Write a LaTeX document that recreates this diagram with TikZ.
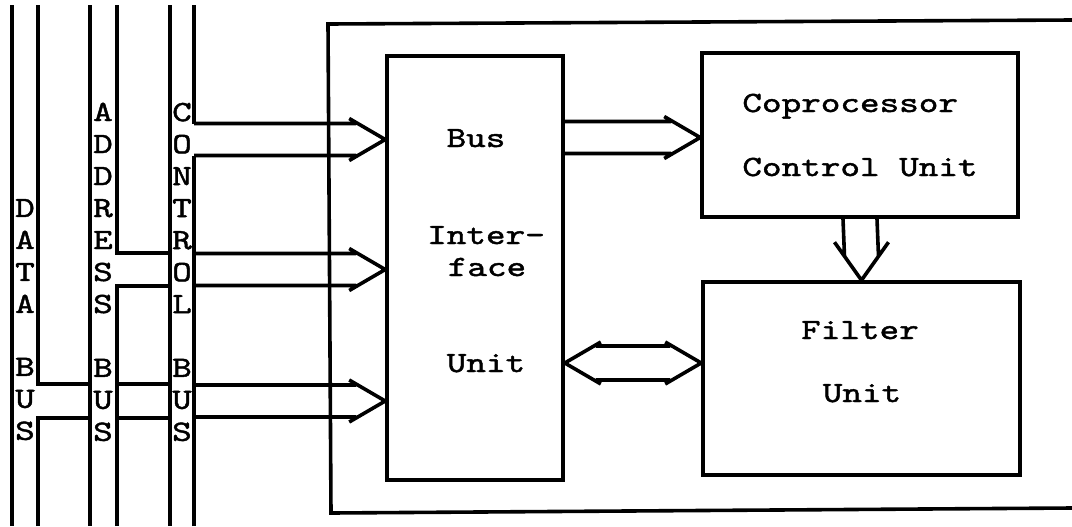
\documentclass[tikz,border=0pt]{standalone}
\usepackage{fontspec}
\usepackage{tikz}
\usetikzlibrary{calc}
\newfontfamily\labfont[FakeStretch=1.27,FakeBold=1.5]{lmmono10-regular.otf}

\tikzset{
  bus/.style={line width=1.8pt},
  blk/.style={draw,line width=1.8pt,inner sep=0pt},
  lab/.style={font=\labfont\fontsize{14.7}{16}\selectfont,inner sep=0pt,align=center}
}
% wide two-line arrow pointing right: #1 start (middle), #2 tip
\newcommand{\wideright}[2]{%
\draw[bus]($(#1)+(0,-16)$)--($(#2)+(-29,-16)$)
($(#1)+(0,16)$)--($(#2)+(-29,16)$)
($(#2)+(-36,-21)$)--(#2)--($(#2)+(-36,21)$);}

\begin{document}
\begin{tikzpicture}[x=0.5pt,y=-0.5pt]
\useasboundingbox(0,0)rectangle(1072,526);

% the three system buses
\draw[bus](12,5)--(12,526);
\draw[bus](38,5)--(38,384)--(90,384);
\draw[bus](38,526)--(38,418)--(90,418);
\draw[bus](90,5)--(90,526);
\draw[bus](117,5)--(117,253)--(170,253);
\draw[bus](117,526)--(117,286)--(170,286);
\draw[bus](117,384)--(170,384);
\draw[bus](117,418)--(170,418);
\draw[bus](170,5)--(170,526);
\draw[bus](194,5)--(194,123.5);
\draw[bus](194,526)--(194,155.5);

\node[lab](dataw) at (25,256){D\\A\\T\\A};
\node[lab](datab) at (25,399){B\\U\\S};
\node[lab](addrw) at (103,208){A\\D\\D\\R\\E\\S\\S};
\node[lab](addrb) at (103,400){B\\U\\S};
\node[lab](ctrlw) at (182,208){C\\O\\N\\T\\R\\O\\L};
\node[lab](ctrlb) at (182,400){B\\U\\S};

% coprocessor
\draw[bus](1072,20)--(328,24)--(331,513)--(1072,508);

\node[blk,minimum width=88pt,minimum height=212pt](biu) at (475,268){};
\node[blk,minimum width=158pt,minimum height=82pt](ccu) at (860,135){};
\node[blk,minimum width=158.5pt,minimum height=96.5pt](fu) at (861.5,378.5){};

\node[lab,anchor=base](biu1) at (476,147){Bus};
\node[lab,anchor=base](biu2) at (486,244){Inter-};
\node[lab,anchor=base](biu3) at (487,276){face};
\node[lab,anchor=base](biu4) at (486,372){Unit};
\node[lab,anchor=base west](ccu1) at (742,112){Coprocessor};
\node[lab,anchor=base west](ccu2) at (742,176){Control Unit};
\node[lab,anchor=base](fu1) at (860,339){Filter};
\node[lab,anchor=base](fu2) at (862,402){Unit};

% connections
\coordinate(ctlst) at (194,139.5);
\coordinate(adrst) at (194,269.5);
\coordinate(datst) at (194,401);
\coordinate(ctlin) at (biu.west |- ctlst);
\coordinate(adrin) at (biu.west |- adrst);
\coordinate(datin) at (biu.west |- datst);
\wideright{ctlst}{ctlin}
\wideright{adrst}{adrin}
\wideright{datst}{datin}

\coordinate(biutop) at (biu.east |- 0,137.5);
\coordinate(ccuin) at (ccu.west |- biutop);
\wideright{biutop}{ccuin}

\draw[bus]($(ccu.south)+(-17,0)$)--($(fu.north)+(-17,-24)$)
($(ccu.south)+(17,0)$)--($(fu.north)+(17,-24)$)
($(fu.north)+(-27,-38)$)--(fu.north)--($(fu.north)+(27,-38)$);

\coordinate(biuout) at (biu.east |- 0,363);
\coordinate(fuin) at (fu.west |- biuout);
\draw[bus]($(biuout)+(31,-17)$)--($(fuin)+(-31,-17)$)
($(biuout)+(31,17)$)--($(fuin)+(-31,17)$)
($(biuout)+(36,-21)$)--(biuout)--($(biuout)+(36,21)$)
($(fuin)+(-36,-21)$)--(fuin)--($(fuin)+(-36,21)$);
\end{tikzpicture}
\end{document}
